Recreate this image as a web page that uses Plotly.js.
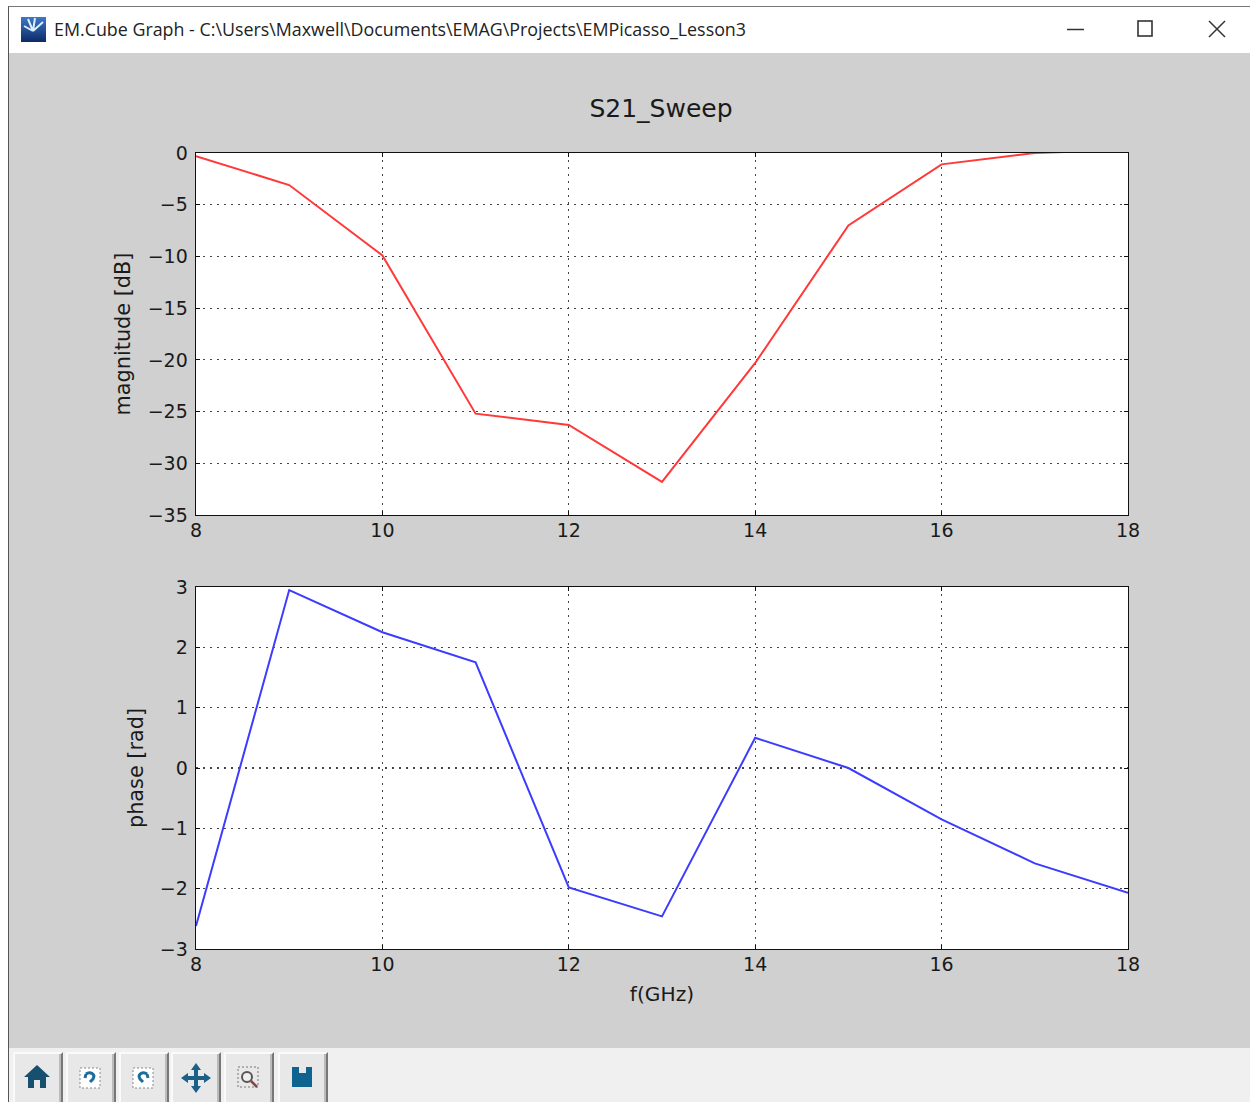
<!DOCTYPE html>
<html>
<head>
<meta charset="utf-8">
<script src="https://cdn.plot.ly/plotly-3.0.1.min.js"></script>
<style>
html,body{margin:0;padding:0;background:#fff;overflow:hidden;width:1250px;height:1102px;font-family:"DejaVu Sans",sans-serif}
#win{position:absolute;left:8px;top:6px;width:1242px;height:1096px;background:#fff;border-left:1px solid #555;border-top:1px solid #777;box-sizing:border-box}
#grey{position:absolute;left:9px;top:53px;width:1241px;height:995px;background:#d0d0d0}
#tool{position:absolute;left:9px;top:1048px;width:1241px;height:54px;background:#f0f0f0}
#caption{position:absolute;left:54px;top:17px;font:17.85px "Open Sans",sans-serif;color:#222;white-space:nowrap}
#chart{position:absolute;left:0;top:0;width:1250px;height:1102px}
.b{position:absolute;top:1052px;width:50px;height:50px;background:#e8e8e8;border-top:2px solid #fafafa;border-left:2px solid #fafafa;border-right:2px solid #777;box-shadow:inset -2px 0 0 #bbb;box-sizing:border-box}
.b svg{position:absolute;left:7px;top:8px}
svg.abs{position:absolute}
</style>
</head>
<body>
<div id="win"></div>
<div id="grey"></div>
<div id="tool"></div>
<svg class="abs" style="left:21px;top:17px" width="25" height="25"><defs><linearGradient id="g" x1="0" y1="0" x2="0" y2="1"><stop offset="0" stop-color="#3d78c8"/><stop offset="1" stop-color="#0b2a66"/></linearGradient></defs><rect width="25" height="25" fill="url(#g)"/><path d="M12 14 L7 2 M12 14 L14 1 M12 14 L22 5 M12 14 L3 9" stroke="#dcefff" stroke-width="2"/></svg>
<div id="caption">EM.Cube Graph - C:\Users\Maxwell\Documents\EMAG\Projects\EMPicasso_Lesson3</div>
<svg class="abs" style="left:1060px;top:15px" width="180" height="28" fill="none" stroke="#333"><path d="M7 14.5H24" stroke-width="1.5"/><rect x="78" y="6" width="14" height="15" stroke-width="1.6"/><path d="M149 6L165 22M165 6L149 22" stroke-width="1.5"/></svg>
<div id="chart"></div>
<div class="b" style="left:13px"><svg width="30" height="30"><path d="M15 3L28 15H24V26H18V18H12V26H6V15H2Z" fill="#17506e"/></svg></div>
<div class="b" style="left:66px"><svg width="30" height="30"><rect x="5" y="6" width="20" height="20" fill="#fff" stroke="#888" stroke-dasharray="2 2"/><path d="M11 12C15 9 21 12 18 17L15 20M11 12L10 16" fill="none" stroke="#1b6d9c" stroke-width="3"/></svg></div>
<div class="b" style="left:119px"><svg width="30" height="30"><rect x="5" y="6" width="20" height="20" fill="#fff" stroke="#888" stroke-dasharray="2 2"/><path d="M19 12C15 9 9 12 12 17L15 20M19 12L20 16" fill="none" stroke="#1b6d9c" stroke-width="3"/></svg></div>
<div class="b" style="left:171px"><svg width="32" height="32"><path d="M16 1L21 8H18V14H24V11L31 16L24 21V18H18V24H21L16 31L11 24H14V18H8V21L1 16L8 11V14H14V8H11Z" fill="#1b6088"/></svg></div>
<div class="b" style="left:224px"><svg width="30" height="30"><rect x="5" y="5" width="20" height="20" fill="none" stroke="#777" stroke-dasharray="2 2"/><circle cx="14" cy="15" r="5" fill="#eee" stroke="#555" stroke-width="2"/><path d="M18 19L24 25" stroke="#844" stroke-width="2.5"/></svg></div>
<div class="b" style="left:278px"><svg width="30" height="30"><path d="M5 5H25V25H5Z" fill="#0f6391"/><rect x="12" y="5" width="7" height="6" fill="#e8e8e8"/></svg></div>
<script>
const freqGHz = [8, 9, 10, 11, 12, 13, 14, 15, 16, 17, 18];
const magnitudeDb = [-0.3, -3.1, -9.9, -25.2, -26.3, -31.8, -20.3, -7.0, -1.1, 0.0, 0.3];
const phaseRad = [-2.62, 2.95, 2.25, 1.75, -1.98, -2.46, 0.5, 0.0, -0.85, -1.58, -2.07];
const xTicks = [8, 10, 12, 14, 16, 18];
const magTicks = [0, -5, -10, -15, -20, -25, -30, -35];
const phaseTicks = [3, 2, 1, 0, -1, -2, -3];
const chartTitle = 'S21_Sweep';
const magLabel = 'magnitude [dB]';
const phaseLabel = 'phase [rad]';
const xLabel = 'f(GHz)';

const H = 1102;
const ink = '#1a1a1a';
const tickFont = {family: 'DejaVu Sans', size: 19, color: ink};
const titleFont = {family: 'DejaVu Sans', size: 20.8, color: ink};
const xTitleFont = {family: 'DejaVu Sans', size: 20.2, color: ink};
function axis(extra) {
  return Object.assign({
    showline: true, linecolor: '#111', linewidth: 1.4, mirror: 'allticks',
    ticks: 'inside', ticklen: 4, tickcolor: '#111', tickwidth: 1,
    showgrid: true, gridcolor: '#444', griddash: '1.5px,5.5px', gridwidth: 1.2,
    zeroline: false, tickfont: tickFont, layer: 'above traces', automargin: false
  }, extra);
}
const data = [
  {x: freqGHz, y: magnitudeDb, xaxis: 'x', yaxis: 'y', mode: 'lines', line: {color: '#ff3838', width: 2}, hoverinfo: 'skip'},
  {x: freqGHz, y: phaseRad, xaxis: 'x2', yaxis: 'y2', mode: 'lines', line: {color: '#3c3cff', width: 2}, hoverinfo: 'skip'}
];
const layout = {
  width: 1250, height: H, showlegend: false,
  paper_bgcolor: 'rgba(0,0,0,0)', plot_bgcolor: '#fff',
  margin: {l: 196, r: 122, t: 0, b: 0, pad: 0},
  title: {text: chartTitle, font: {family: 'DejaVu Sans', size: 25, color: ink}, x: 661 / 1250, xanchor: 'center', y: 1 - 108.5 / H, yanchor: 'middle'},
  xaxis: axis({domain: [0, 1], range: [8, 18], tickvals: xTicks, ticktext: xTicks.map(String), anchor: 'y', ticklabelstandoff: -2}),
  yaxis: axis({domain: [1 - 515 / H, 1 - 153 / H], range: [-35, 0], tickvals: magTicks, anchor: 'x', ticklabelstandoff: 3,
    title: {text: magLabel, font: titleFont, standoff: 11}}),
  xaxis2: axis({domain: [0, 1], range: [8, 18], tickvals: xTicks, ticktext: xTicks.map(String), anchor: 'y2', ticklabelstandoff: -2,
    title: {text: xLabel, font: xTitleFont, standoff: 12}}),
  yaxis2: axis({domain: [1 - 949 / H, 1 - 587 / H], range: [-3, 3], tickvals: phaseTicks, anchor: 'x2', ticklabelstandoff: 3,
    title: {text: phaseLabel, font: titleFont, standoff: 10.5}})
};
Plotly.newPlot('chart', data, layout, {displayModeBar: false, staticPlot: true});
</script>
</body>
</html>
